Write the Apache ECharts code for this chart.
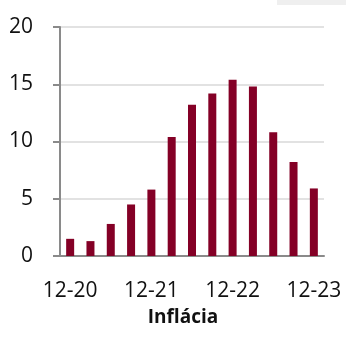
<!DOCTYPE html>
<html>
<head>
<meta charset="utf-8">
<script src="https://cdn.jsdelivr.net/npm/echarts@6/dist/echarts.min.js"></script>
<style>
  html, body { margin: 0; padding: 0; background: #ffffff; }
  #chart { width: 346px; height: 342px; }
</style>
</head>
<body>
<div id="chart"></div>
<script>
// Quarterly year-on-year inflation, %
const quarters = ['12-20', '03-21', '06-21', '09-21', '12-21', '03-22', '06-22',
                  '09-22', '12-22', '03-23', '06-23', '09-23', '12-23'];
const inflation = [1.5, 1.3, 2.8, 4.5, 5.8, 10.4, 13.2, 14.2, 15.4, 14.8, 10.8, 8.2, 5.9];
const yTicks = { min: 0, max: 20, step: 5 };
const titleText = 'Inflácia';

const FONT = '"Open Sans", "Liberation Sans", sans-serif';
const AXIS_GREY = '#8a8a8a';

const chart = echarts.init(document.getElementById('chart'), null, { renderer: 'canvas' });

chart.setOption({
  animation: false,
  backgroundColor: '#ffffff',
  grid: { left: 60, right: 22, top: 27, bottom: 86, containLabel: false },
  xAxis: {
    type: 'category',
    data: quarters,
    axisLine: { show: true, lineStyle: { color: AXIS_GREY, width: 2 } },
    axisTick: { show: false },
    axisLabel: {
      interval: 3,
      margin: 25,
      color: '#111111',
      fontSize: 21,
      fontFamily: FONT
    },
    splitLine: { show: false }
  },
  yAxis: {
    type: 'value',
    min: yTicks.min,
    max: yTicks.max,
    interval: yTicks.step,
    axisLine: { show: true, lineStyle: { color: AXIS_GREY, width: 2 } },
    axisTick: { show: true, inside: false, length: 7, lineStyle: { color: AXIS_GREY, width: 2 } },
    axisLabel: {
      margin: 27,
      color: '#111111',
      fontSize: 21,
      fontFamily: FONT
    },
    splitLine: { show: true, lineStyle: { color: '#d9d9d9', width: 1.5 } }
  },
  series: [{
    type: 'bar',
    data: inflation,
    barWidth: 8,
    itemStyle: { color: '#840026' }
  }],
  graphic: [
    {
      type: 'rect',
      shape: { x: 277, y: 0, width: 69, height: 5 },
      style: { fill: '#efefef' },
      silent: true
    },
    {
      type: 'text',
      x: 183,
      y: 318,
      style: {
        text: titleText,
        fill: '#111111',
        font: 'bold 19px ' + FONT,
        textAlign: 'center',
        textVerticalAlign: 'middle'
      }
    }
  ]
});
</script>
</body>
</html>
